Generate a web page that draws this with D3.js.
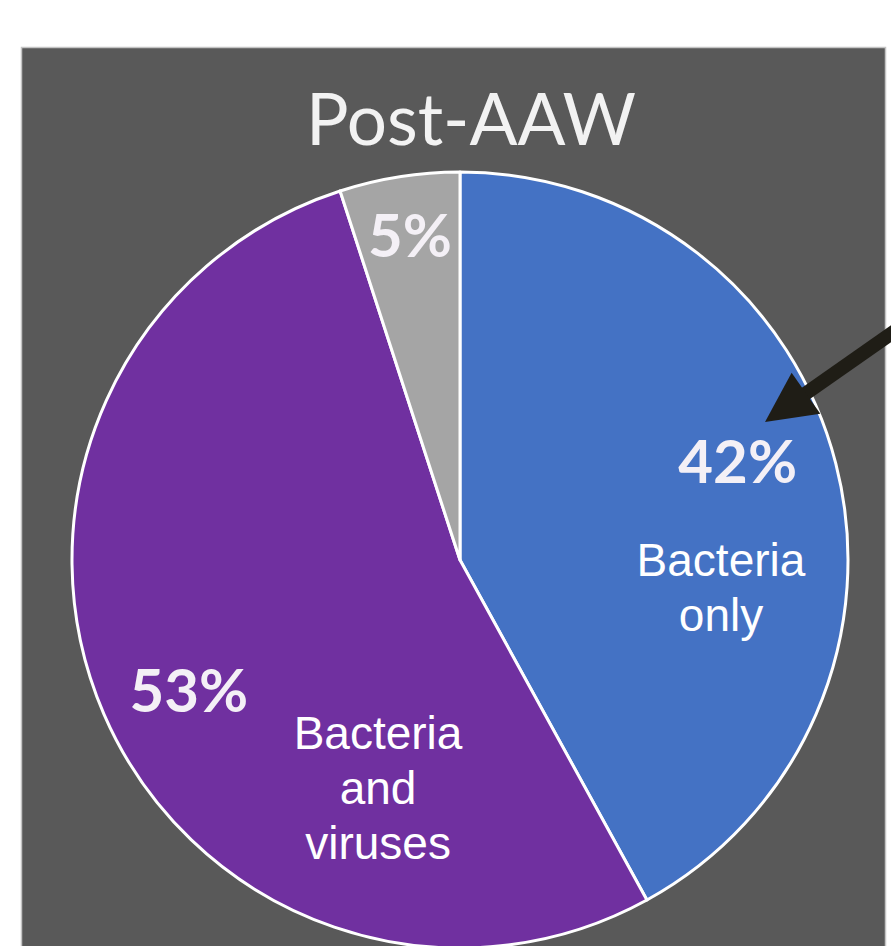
<!DOCTYPE html>
<html>
<head>
<meta charset="utf-8">
<script src="https://cdn.jsdelivr.net/npm/d3@7/dist/d3.min.js"></script>
<style>
  html, body { margin: 0; padding: 0; background: #ffffff; }
  svg { display: block; }
</style>
</head>
<body>
<svg id="chart" width="891" height="946"></svg>
<script>
// Share of infections after AAW
const title = "Post-AAW";
const categories = ["Bacteria only", "Bacteria and viruses", "Other"];
const values = [42, 53, 5];
const percentLabels = ["42%", "53%", "5%"];
const categoryLines = [["Bacteria", "only"], ["Bacteria", "and", "viruses"], []];
const colors = ["#4472C4", "#7030A0", "#A5A5A5"];

const W = 891, H = 946;
const svg = d3.select("#chart");

// dark panel behind the pie
svg.append("rect")
  .attr("x", 21.5).attr("y", 47.5)
  .attr("width", 864).attr("height", 910)
  .attr("fill", "#595959")
  .attr("stroke", "#c4c4c4")
  .attr("stroke-width", 1.5);

// title
svg.append("text")
  .attr("x", 471).attr("y", 145)
  .attr("text-anchor", "middle")
  .attr("font-family", "Lato, 'Open Sans', sans-serif")
  .attr("font-size", 71)
  .attr("fill", "#f2f2f2")
  .text(title);

const cx = 460, cy = 560, R = 388;
const g = svg.append("g").attr("transform", `translate(${cx},${cy})`);

const pie = d3.pie().sort(null).value(d => d)(values);
const arc = d3.arc().innerRadius(0).outerRadius(R);

g.selectAll("path.slice")
  .data(pie)
  .join("path")
  .attr("class", "slice")
  .attr("d", arc)
  .attr("fill", (d, i) => colors[i])
  .attr("stroke", "#ffffff")
  .attr("stroke-width", 3)
  .attr("stroke-linejoin", "round");

// polar helper: point at radius r along the slice's mid angle, shifted by (dx, dy)
function polar(d, r, dAng, dx, dy) {
  const a = (d.startAngle + d.endAngle) / 2 + dAng;
  return [Math.sin(a) * r + dx, -Math.cos(a) * r + dy];
}

// percentage labels (bold)
const pctPlace = [
  { r: 300, dAng: -0.08, dx: -6, dy: 0 },
  { r: 305, dAng: -0.06, dx: 1, dy: -7 },
  { r: 320, dAng: 0, dx: 0, dy: -8 }
];
g.selectAll("text.pct")
  .data(pie)
  .join("text")
  .attr("class", "pct")
  .each(function (d, i) {
    const p = pctPlace[i];
    const [x, y] = polar(d, p.r, p.dAng, p.dx, p.dy);
    d3.select(this).attr("x", x).attr("y", y + 21);
  })
  .attr("text-anchor", "middle")
  .attr("font-family", "Lato, 'Open Sans', sans-serif")
  .attr("font-weight", "bold")
  .attr("font-size", 60)
  .attr("fill", "#f4f0f6")
  .text((d, i) => percentLabels[i]);

// category labels
const catPlace = [
  { r: 265, dAng: 0.25, dx: -4, dy: 16 },
  { r: 195, dAng: -0.63, dx: 17, dy: 21 }
];
const lineH = 55;
pie.forEach((d, i) => {
  const lines = categoryLines[i];
  if (!lines.length) return;
  const p = catPlace[i];
  const [x, y] = polar(d, p.r, p.dAng, p.dx, p.dy);
  const t = g.append("text")
    .attr("text-anchor", "middle")
    .attr("font-family", "'Liberation Sans', Arial, sans-serif")
    .attr("font-size", 46)
    .attr("fill", "#ffffff");
  lines.forEach((ln, k) => {
    t.append("tspan").attr("x", x).attr("y", y + k * lineH).text(ln);
  });
});

// pointer arrow toward the "Bacteria only" slice
const tip = [765, 422];
const tail = [905, 324];
const ang = Math.atan2(tail[1] - tip[1], tail[0] - tip[0]);
const headLen = 50, headHalf = 25;
const bx = tip[0] + Math.cos(ang) * headLen, by = tip[1] + Math.sin(ang) * headLen;
svg.append("line")
  .attr("x1", bx - Math.cos(ang) * 4).attr("y1", by - Math.sin(ang) * 4)
  .attr("x2", tail[0]).attr("y2", tail[1])
  .attr("stroke", "#1f1d16")
  .attr("stroke-width", 14);
svg.append("path")
  .attr("d", d3.line()([
    tip,
    [bx + Math.sin(ang) * headHalf, by - Math.cos(ang) * headHalf],
    [bx - Math.sin(ang) * headHalf, by + Math.cos(ang) * headHalf]
  ]) + "Z")
  .attr("fill", "#1f1d16");
</script>
</body>
</html>
